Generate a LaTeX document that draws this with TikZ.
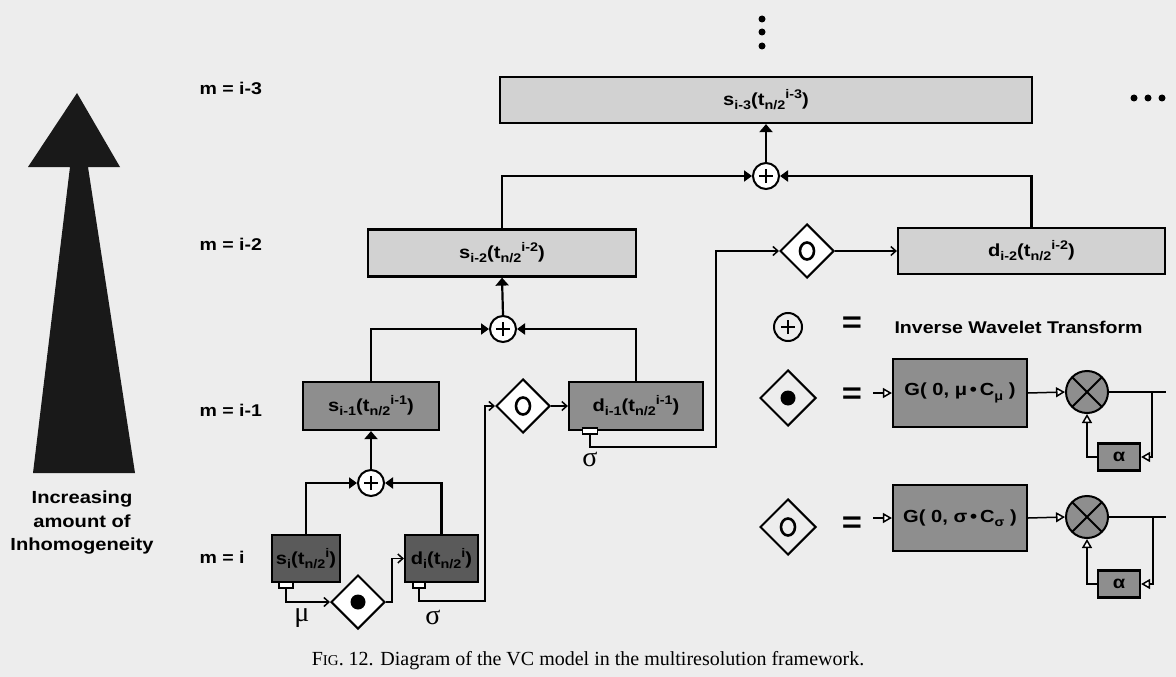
\documentclass[tikz,border=0pt]{standalone}
\usepackage{fontspec}
\setmainfont{Liberation Serif}
\newfontfamily\lab[FakeStretch=1.15]{Liberation Sans}
\usetikzlibrary{shapes.geometric,arrows.meta}
\definecolor{bgc}{HTML}{EDEDED}
\definecolor{light}{HTML}{D2D2D2}
\definecolor{mid}{HTML}{8E8E8E}
\definecolor{dark}{HTML}{5A5A5A}
\newcommand\subx[1]{\raisebox{-0.45ex}{\fontsize{12.5}{12.5}\selectfont #1}}
\newcommand\supx[1]{\raisebox{0.75ex}{\fontsize{12.5}{12.5}\selectfont #1}}
\tikzset{
  boxbase/.style={draw, line width=2.2pt, inner sep=0pt, font=\lab\bfseries\fontsize{17.5}{17.5}\selectfont},
  lightbox/.style={boxbase, fill=light},
  midbox/.style={boxbase, fill=mid},
  darkbox/.style={boxbase, fill=dark},
  port/.style={draw, line width=1.2pt, fill=white, inner sep=0pt, minimum width=14pt, minimum height=6pt},
  oplus/.style={circle, draw, line width=2pt, fill=white, minimum size=26pt, inner sep=0pt,
    path picture={\draw[black, line width=2pt] ([xshift=-7pt]path picture bounding box.center) -- ([xshift=7pt]path picture bounding box.center);
                  \draw[black, line width=2pt] ([yshift=-7pt]path picture bounding box.center) -- ([yshift=7pt]path picture bounding box.center);}},
  otimes/.style={circle, draw, line width=2pt, fill=mid, minimum size=42pt, inner sep=0pt,
    path picture={\draw[black, line width=2pt] (path picture bounding box.north west) -- (path picture bounding box.south east);
                  \draw[black, line width=2pt] (path picture bounding box.north east) -- (path picture bounding box.south west);}},
  dia/.style={diamond, draw, line width=2pt, fill=white, minimum width=54pt, minimum height=54pt, inner sep=0pt},
  dotdia/.style={dia, path picture={\fill[black] (path picture bounding box.center) circle (7.5);}},
  ringdia/.style={dia, path picture={\draw[black, line width=2.6pt] (path picture bounding box.center) ellipse (7 and 8.5);}},
  conn/.style={line width=2.2pt},
  thin/.style={line width=1.5pt},
  intoplus/.style={conn, -{Triangle[length=8pt,width=11pt]}},
  upbox/.style={conn, -{Triangle[length=8pt,width=13pt]}},
  barb/.style={thin, -{Straight Barb[length=5pt,width=9pt]}},
  optri/.style={thin, -{Triangle[open,length=9pt,width=10pt,fill=white]}},
  lvl/.style={font=\lab\bfseries\fontsize{17}{17}\selectfont, anchor=west},
  eqs/.style={font=\lab\bfseries\fontsize{30}{30}\selectfont},
  greek/.style={font=\fontsize{28}{28}\selectfont},
  bigdot/.style={circle, fill=black, minimum size=7pt, inner sep=0pt}
}
\begin{document}
\begin{tikzpicture}[x=1pt,y=-1pt]
\fill[bgc] (0,0) rectangle (1176,677);
\useasboundingbox (0,0) rectangle (1176,677);

% big arrow
\fill[black!90] (77,93) -- (120,167) -- (88,167) -- (135,473) -- (33,473) -- (70,167) -- (28,167) -- cycle;
\node[font=\lab\bfseries\fontsize{17.5}{23.5}\selectfont, align=center] (inc) at (82,523) {Increasing\\amount of\\Inhomogeneity};

% level labels
\node[lvl] (m3) at (196,88) {m = i-3};
\node[lvl] (m2) at (196,244) {m = i-2};
\node[lvl] (m1) at (196,410) {m = i-1};
\node[lvl] (m0) at (196,557) {m = i};

% boxes
\node[lightbox, minimum width=532pt, minimum height=46pt] (sim3) at (766,100) {s\subx{i-3}(t\subx{n/2}\supx{i-3})};
\node[lightbox, minimum width=268pt, minimum height=47pt] (sim2) at (502,253) {s\subx{i-2}(t\subx{n/2}\supx{i-2})};
\node[lightbox, minimum width=267pt, minimum height=46pt] (dim2) at (1031.5,251) {d\subx{i-2}(t\subx{n/2}\supx{i-2})};
\node[midbox, minimum width=136pt, minimum height=48pt] (sim1) at (371,406) {s\subx{i-1}(t\subx{n/2}\supx{i-1})};
\node[midbox, minimum width=134pt, minimum height=48pt] (dim1) at (636,406) {d\subx{i-1}(t\subx{n/2}\supx{i-1})};
\node[darkbox, minimum width=68pt, minimum height=47pt] (si) at (306,558.5) {s\subx{i}(t\subx{n/2}\supx{i})};
\node[darkbox, minimum width=73pt, minimum height=47pt] (di) at (441.5,558.5) {d\subx{i}(t\subx{n/2}\supx{i})};

% ports
\node[port] (sip) at (286,585) {};
\node[port, minimum width=12pt] (dip) at (419,585) {};
\node[port, minimum width=15pt] (dimp) at (590,431) {};

% combiners
\node[oplus] (p1) at (371,483) {};
\node[oplus] (p2) at (503,329) {};
\node[oplus] (p3) at (766,176) {};

% diamonds
\node[dotdia] (dmu) at (358,602) {};
\node[ringdia] (dsig1) at (523,406) {};
\node[ringdia] (dsig2) at (807,251) {};

% greek labels
\node[greek] (mu0) at (302,618) {μ};
\node[greek] (sg0) at (433,617) {σ};
\node[greek] (sg1) at (590,459) {σ};

% bend coordinates
\coordinate (r1) at (485,601);
\coordinate (r2) at (716,447);
\coordinate (k1) at (392,602);

% level i
\draw[intoplus] (si.north) |- (p1.west);
\draw[intoplus] (di.north) |- (p1.east);
\draw[upbox] (p1.north) -- (sim1.south);
\draw[barb] (sip.south) |- (dmu.west);
\draw[barb] (dmu.east) -- (k1) |- (di.west);
\draw[barb] (dip.south) |- (r1) |- (dsig1.west);
\draw[barb] (dsig1.east) -- (dim1.west);

% level i-1
\draw[intoplus] (sim1.north) |- (p2.west);
\draw[intoplus] (dim1.north) |- (p2.east);
\draw[upbox] (p2.north) -- (sim2.south);
\draw[barb] (dimp.south) |- (r2) |- (dsig2.west);
\draw[barb] (dsig2.east) -- (dim2.west);

% level i-2
\draw[intoplus] (sim2.north) |- (p3.west);
\draw[intoplus] (dim2.north) |- (p3.east);
\draw[upbox] (p3.north) -- (sim3.south);

% dots
\node[bigdot] (v1) at (762,19) {};
\node[bigdot] (v2) at (762,32) {};
\node[bigdot] (v3) at (762,46) {};
\node[bigdot] (h1) at (1134,98) {};
\node[bigdot] (h2) at (1148,98) {};
\node[bigdot] (h3) at (1162,98) {};

% legend
\node[oplus, minimum size=28pt, fill=none] (lp) at (788,327) {};
\node[eqs] (eq1) at (852,325) {=};
\node[lvl] (iwt) at (891,327) {Inverse Wavelet Transform};

\node[dotdia, minimum width=56pt, minimum height=56pt, fill=none] (ldm) at (788,398) {};
\node[eqs] (eq2) at (852,396) {=};
\node[midbox, minimum width=134pt, minimum height=68pt] (G1) at (960,393) {G( 0, μ\,•\,C\subx{μ} )};
\node[otimes] (X1) at (1087,392) {};
\node[midbox, minimum width=42pt, minimum height=27pt] (a1) at (1119,457) {α};
\coordinate (in1) at (873,393);
\coordinate (o1) at (1166,392);
\coordinate (b1) at (1152,392);
\draw[optri] (in1) -- (G1.west);
\draw[optri] (G1.east) -- (X1.west);
\draw[thin] (X1.east) -- (o1);
\draw[optri] (b1) |- (a1.east);
\draw[optri] (a1.west) -| (X1.south);

\node[ringdia, minimum width=56pt, minimum height=56pt, fill=none] (lds) at (788,527) {};
\node[eqs] (eq3) at (852,525) {=};
\node[midbox, minimum width=134pt, minimum height=66pt] (G2) at (960,518) {G( 0, σ\,•\,C\subx{σ} )};
\node[otimes] (X2) at (1087,517) {};
\node[midbox, minimum width=42pt, minimum height=27pt] (a2) at (1119,584) {α};
\coordinate (in2) at (873,518);
\coordinate (o2) at (1166,517);
\coordinate (b2) at (1153,517);
\draw[optri] (in2) -- (G2.west);
\draw[optri] (G2.east) -- (X2.west);
\draw[thin] (X2.east) -- (o2);
\draw[optri] (b2) |- (a2.east);
\draw[optri] (a2.west) -| (X2.south);

% caption
\node[font=\fontsize{20}{20}\selectfont] (cap) at (588,661) {F{\fontsize{15}{15}\selectfont IG}. 12. Diagram of the VC model in the multiresolution framework.};
\end{tikzpicture}
\end{document}
